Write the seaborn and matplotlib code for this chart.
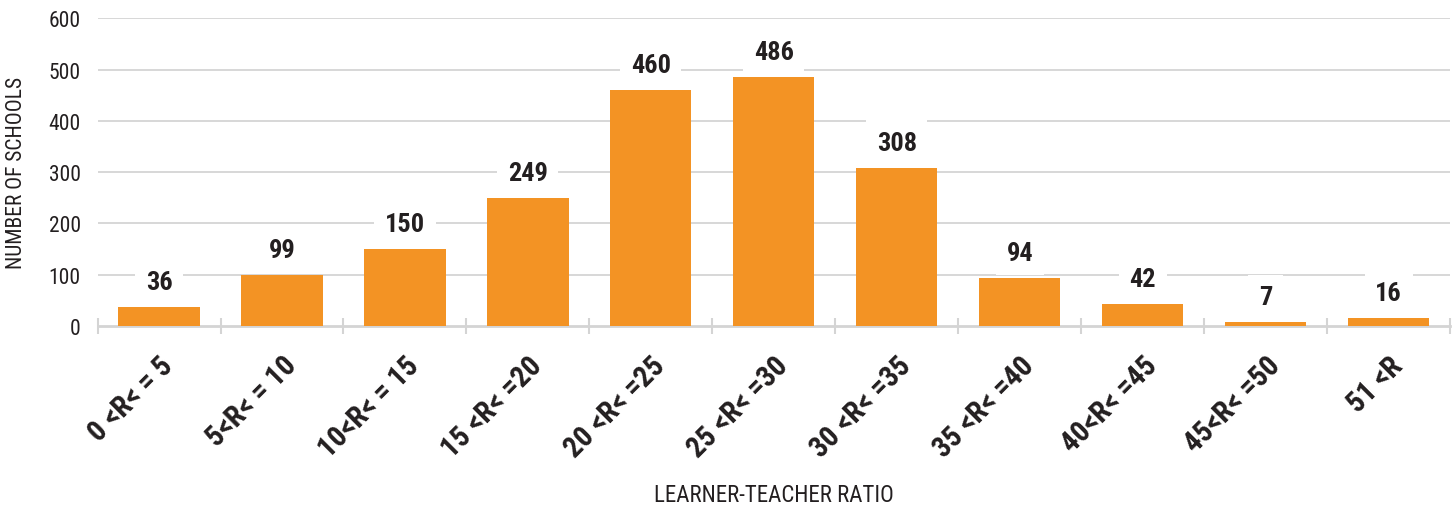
import numpy as np
import pandas as pd
import seaborn as sns
import matplotlib.pyplot as plt
from matplotlib import font_manager

# data
categories = ["0 <R< = 5", "5<R< = 10", "10<R< = 15", "15 <R< =20", "20 <R< =25",
              "25 <R< =30", "30 <R< =35", "35 <R< =40", "40<R< =45", "45<R< =50", "51 <R"]
schools = [36, 99, 150, 249, 460, 486, 308, 94, 42, 7, 16]
y_ticks = [0, 100, 200, 300, 400, 500, 600]

df = pd.DataFrame({"ratio": categories, "schools": schools})

sns.set_theme(style="white")

# pick a condensed sans if one is around
names = {f.name for f in font_manager.fontManager.ttflist}
family = "DejaVu Sans"
for cand in ["Roboto Condensed", "Barlow Condensed", "Archivo Narrow",
             "Liberation Sans Narrow", "PT Sans Narrow"]:
    if cand in names:
        family = cand
        break
plt.rcParams["font.family"] = [family, "DejaVu Sans"]

orange = "#F39324"
dark = "#231F20"
grid = "#D4D4D4"

fig, ax = plt.subplots(figsize=(14.56, 5.06), dpi=100)
fig.subplots_adjust(left=0.067, right=0.996, top=0.962, bottom=0.354)

sns.barplot(data=df, x="ratio", y="schools", color=orange, width=0.66,
            saturation=1, linewidth=0, ax=ax, zorder=3)

ax.set_xlim(-0.5, len(categories) - 0.5)
ax.set_ylim(0, 600)
ax.set_yticks(y_ticks)
ax.tick_params(axis="y", length=0, pad=12, labelsize=15.5, labelcolor=dark)
for y in y_ticks[1:]:
    ax.axhline(y, color=grid, lw=1.3, zorder=1)

for s in ["top", "right", "left"]:
    ax.spines[s].set_visible(False)
ax.spines["bottom"].set_color(grid)
ax.spines["bottom"].set_linewidth(2)

ax.set_xticks(np.arange(len(categories)))
ax.set_xticks(np.arange(len(categories) + 1) - 0.5, minor=True)
ax.tick_params(axis="x", which="major", length=0, pad=18)
ax.tick_params(axis="x", which="minor", direction="inout", length=11,
               width=1.5, color=grid, bottom=True)
ax.set_xticklabels(categories, rotation=45, ha="right", rotation_mode="anchor",
                   fontsize=21, fontweight="black", color=dark)

for i, v in enumerate(schools):
    ax.annotate(str(v), (i, v), xytext=(0, 18), textcoords="offset points",
                ha="center", va="center", fontsize=19, fontweight="black",
                color=dark, zorder=4,
                bbox=dict(boxstyle="square,pad=0.4", fc="white", ec="none"))

ax.set_ylabel("NUMBER OF SCHOOLS", fontsize=15.5, color=dark, va="center")
ax.yaxis.set_label_coords(-0.06, 0.5)
ax.set_xlabel("LEARNER-TEACHER RATIO", fontsize=16.5, color=dark, va="center")
ax.xaxis.set_label_coords(0.5, -0.547)

fig.savefig("out.png", dpi=100)
